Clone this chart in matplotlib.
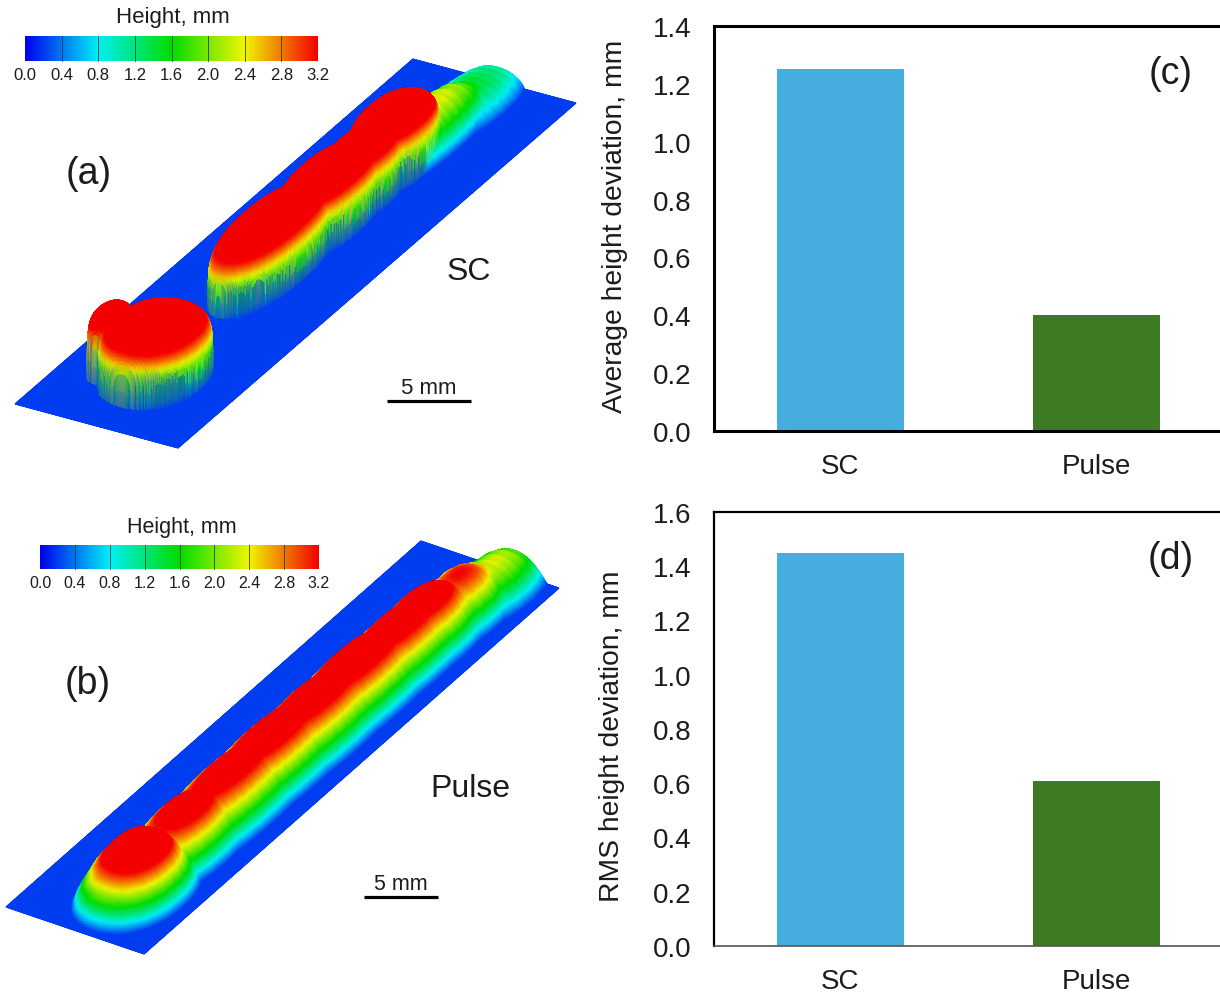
import numpy as np
import matplotlib as mpl
mpl.use('Agg')
import matplotlib.pyplot as plt
from matplotlib.colors import LinearSegmentedColormap

plt.rcParams['font.family'] = ['Liberation Sans', 'DejaVu Sans']

W, H = 1220, 995
TXT = '#1c1c1c'

# bar charts
categories = ['SC', 'Pulse']
avg_dev = [1.25, 0.40]
rms_dev = [1.45, 0.61]
bar_colors = ['#45aedf', '#3d7a23']
avg_ticks = [0.0, 0.2, 0.4, 0.6, 0.8, 1.0, 1.2, 1.4]
rms_ticks = [0.0, 0.2, 0.4, 0.6, 0.8, 1.0, 1.2, 1.4, 1.6]

# colour scale
scale_ticks = [0.0, 0.4, 0.8, 1.2, 1.6, 2.0, 2.4, 2.8, 3.2]
scale_colors = ['#0000ee', '#00f0f5', '#00dc00', '#f0f500', '#f40000']

# scan (a): bead lumps, position along / across the plate, radii, height (mm)
sc_s = [0.14, 0.13, 0.44, 0.58, 0.66, 0.745, 0.82, 0.93]
sc_u = [0.52, 0.27, 0.49, 0.50, 0.51, 0.50, 0.52, 0.52]
sc_rs = [0.085, 0.04, 0.13, 0.11, 0.08, 0.085, 0.15, 0.11]
sc_ru = [0.27, 0.10, 0.19, 0.18, 0.16, 0.18, 0.18, 0.20]
sc_h = [3.5, 3.7, 3.5, 3.5, 3.4, 3.6, 2.2, 1.15]
sc_q = [5.0, 5.0, 5.0, 5.0, 5.0, 5.0, 2.0, 2.0]
sc_e = [5.0, 5.0, 5.0, 5.0, 5.0, 5.0, 1.5, 1.5]

# scan (b)
pulse_s = [0.115, 0.23, 0.34, 0.44, 0.54, 0.64, 0.74, 0.80, 0.88, 0.95]
pulse_u = [0.60, 0.60, 0.60, 0.60, 0.61, 0.61, 0.62, 0.62, 0.64, 0.68]
pulse_rs = [0.105, 0.13, 0.20, 0.20, 0.20, 0.20, 0.18, 0.13, 0.10, 0.10]
pulse_ru = [0.33, 0.29, 0.30, 0.30, 0.30, 0.30, 0.29, 0.29, 0.27, 0.26]
pulse_h = [4.2, 3.6, 3.5, 3.6, 3.6, 3.7, 3.6, 3.6, 3.0, 2.1]
pulse_q = [2.0, 2.0, 2.0, 2.0, 2.0, 2.0, 2.0, 2.0, 2.0, 2.0]
pulse_e = [1.0, 1.0, 1.0, 1.0, 1.0, 1.0, 1.0, 1.0, 1.0, 1.0]

# roughness on the bead walls, mm
ripple = [0.3, -0.5, 0.1, 0.6, -0.2, -0.7, 0.4, 0.0, -0.3, 0.7, -0.6, 0.2,
          0.5, -0.1, -0.8, 0.3, 0.1, -0.4, 0.6, -0.2, 0.0, -0.6, 0.4]

cmap = LinearSegmentedColormap.from_list('height', scale_colors)


def px(x0, y0, x1, y1):
    return [x0 / W, 1 - y1 / H, (x1 - x0) / W, (y1 - y0) / H]


def surface(ax, corners, s0, u0, rs, ru, hh, q, e, lift, rough):
    # corners: near back, near front, far back
    a0, b0, a1 = [np.array(c, float) for c in corners]
    s = np.linspace(1, 0, 520)
    u = np.linspace(0, 1, 400)
    ss, uu = np.meshgrid(s, u, indexing='ij')
    z = np.zeros_like(ss)
    for i in range(len(s0)):
        r = (np.abs((ss - s0[i]) / rs[i]) ** 2.2 + np.abs((uu - u0[i]) / ru[i]) ** 2.2) ** (1 / 2.2)
        lump = hh[i] * np.clip(1 - r ** q[i], 0, 1) ** (1 / e[i])
        z = np.maximum(z, lump)
    rip = np.array(ripple)[np.arange(len(s)) // 3 % len(ripple)]
    taper = np.clip(z, 0, 1) * np.clip(3.1 - z, 0, 1)
    z = np.where(z > 0, np.maximum(z + rough * rip[:, None] * taper, 0), 0)
    x = a0[0] + ss * (a1[0] - a0[0]) + uu * (b0[0] - a0[0])
    y = a0[1] + ss * (a1[1] - a0[1]) + uu * (b0[1] - a0[1]) - lift * z
    ax.pcolormesh(x, y, z + 0.2, cmap=cmap, vmin=0, vmax=3.2, shading='gouraud')


def colorscale(ax, x0, x1, y0, y1, title, title_xy, tick_y, fs, title_fs):
    grad = np.linspace(0, 3.2, 256)[None, :]
    ax.imshow(grad, cmap=cmap, vmin=0, vmax=3.2, extent=[x0, x1, y1, y0], aspect='auto')
    for t in scale_ticks:
        xp = x0 + (x1 - x0) * t / 3.2
        if 0 < t < 3.2:
            ax.plot([xp, xp], [y0, y1], color='#1a3a3a', lw=0.7, alpha=0.8)
        ax.text(xp, tick_y, '%.1f' % t, fontsize=fs, ha='center', va='center', color=TXT)
    ax.text(title_xy[0], title_xy[1], title, fontsize=title_fs, ha='center', va='center', color=TXT)


def bars(fig, box, vals, ticks, ylabel, label_xy, tag, tag_y, lw, bottom_c, bottom_lw, xlab_pad):
    x0, y0, x1, y1 = box
    ax = fig.add_axes(px(x0, y0, x1, y1))
    ax.patch.set_alpha(0)
    ax.bar(range(2), vals, width=0.497, color=bar_colors)
    ax.set_xlim(-0.494, 1.5)
    ax.set_ylim(ticks[0], ticks[-1])
    ax.set_yticks(ticks)
    ax.set_yticklabels(['%.1f' % t for t in ticks], fontsize=20, color=TXT)
    ax.set_xticks(range(2))
    ax.set_xticklabels(categories, fontsize=20, color=TXT)
    ax.tick_params(axis='y', length=0, pad=16)
    ax.tick_params(axis='x', length=0, pad=xlab_pad)
    for side in ['top', 'left']:
        ax.spines[side].set_linewidth(lw)
    ax.spines['right'].set_visible(False)
    ax.spines['bottom'].set_linewidth(bottom_lw)
    ax.spines['bottom'].set_color(bottom_c)
    ax.set_ylabel(ylabel, fontsize=20.3, color=TXT, va='center')
    ax.yaxis.set_label_coords((label_xy[0] - x0) / (x1 - x0), 1 - (label_xy[1] - y0) / (y1 - y0))
    fig.text(1171 / W, 1 - tag_y / H, tag, fontsize=27, ha='center', va='center', color=TXT)
    return ax


fig = plt.figure(figsize=(W / 100, H / 100), dpi=100)
ax = fig.add_axes([0, 0, 1, 1])
ax.set_xlim(0, W)
ax.set_ylim(H, 0)
ax.axis('off')

surface(ax, [(15, 405), (178, 449), (413, 60)], sc_s, sc_u, sc_rs, sc_ru, sc_h, sc_q, sc_e, 17, 0.18)
surface(ax, [(6, 908), (144, 955), (421, 542)], pulse_s, pulse_u, pulse_rs, pulse_ru, pulse_h, pulse_q, pulse_e, 14, 0.1)

colorscale(ax, 25, 318, 37, 62, 'Height, mm', (173, 18), 75, 12, 16)
colorscale(ax, 40, 319, 546, 570, 'Height, mm', (182, 528), 583, 11.5, 15.5)
ax.set_xlim(0, W)
ax.set_ylim(H, 0)

ax.text(89, 174, '(a)', fontsize=27, ha='center', va='center', color=TXT)
ax.text(88, 684, '(b)', fontsize=27, ha='center', va='center', color=TXT)
ax.text(469, 272, 'SC', fontsize=23, ha='center', va='center', color=TXT)
ax.text(470, 789, 'Pulse', fontsize=23, ha='center', va='center', color=TXT)
ax.text(429, 388, '5 mm', fontsize=16, ha='center', va='center', color=TXT)
ax.plot([387, 471], [402, 402], color='black', lw=2.3, solid_capstyle='butt')
ax.text(401, 884, '5 mm', fontsize=15.5, ha='center', va='center', color=TXT)
ax.plot([364, 438], [898, 898], color='black', lw=2.3, solid_capstyle='butt')

bars(fig, (714, 27, 1224.5, 432), avg_dev, avg_ticks, 'Average height deviation, mm',
     (615, 226.5), '(c)', 74, 2.2, 'black', 2.2, 16)
bars(fig, (714, 513, 1224.5, 947), rms_dev, rms_ticks, 'RMS height deviation, mm',
     (612, 736), '(d)', 559, 1.6, '#555555', 1.2, 16)

plt.savefig('out.png', dpi=100)
plt.close()
